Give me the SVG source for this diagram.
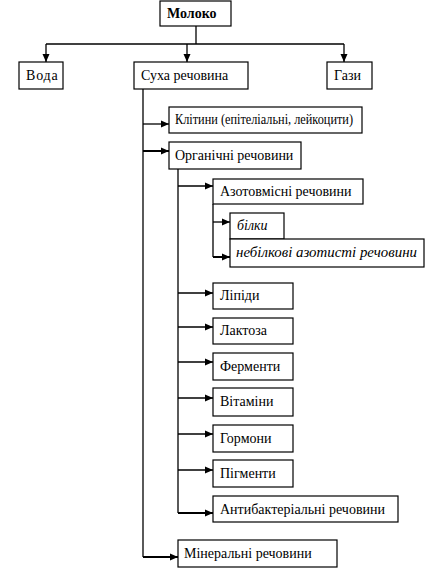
<svg xmlns="http://www.w3.org/2000/svg" width="447" height="568" viewBox="0 0 447 568">
<style>
rect{fill:#fff;stroke:#000;stroke-width:1.2}
text{font-family:'Times New Roman','Liberation Serif','DejaVu Serif',serif;font-size:14px;fill:#000}
.b{font-weight:bold}
.i{font-style:italic}
.c path{fill:none;stroke:#000;stroke-width:1.3}
.c .t{stroke-width:2}
</style>
<defs>
<marker id="a" viewBox="0 0 8 8" refX="8" refY="4" markerWidth="8" markerHeight="8" markerUnits="userSpaceOnUse" orient="auto">
<path d="M0,0.5 L8,4 L0,7.5 Z" fill="#000"/>
</marker>
</defs>
<g class="c" id="connectors">
<path d="M196,26 V44"/>
<path d="M46,44 H344"/>
<path d="M46,44 V62" marker-end="url(#a)"/>
<path d="M187,44 V62" marker-end="url(#a)"/>
<path d="M344,44 V62" marker-end="url(#a)"/>
<path d="M143,89 V557"/>
<path d="M143,124 H169" marker-end="url(#a)"/>
<path class="t" d="M143,151 H169" marker-end="url(#a)"/>
<path class="t" d="M143,557 H178" marker-end="url(#a)"/>
<path d="M178,169 V513"/>
<path d="M178,186 H213" marker-end="url(#a)"/>
<path d="M178,293 H213" marker-end="url(#a)"/>
<path d="M178,327 H213" marker-end="url(#a)"/>
<path d="M178,362 H213" marker-end="url(#a)"/>
<path d="M178,398 H213" marker-end="url(#a)"/>
<path d="M178,434 H213" marker-end="url(#a)"/>
<path d="M178,470 H213" marker-end="url(#a)"/>
<path class="t" d="M178,513 H213" marker-end="url(#a)"/>
<path d="M213,204 V257"/>
<path d="M213,222 H230" marker-end="url(#a)"/>
<path class="t" d="M213,257 H230" marker-end="url(#a)"/>
</g>
<g id="moloko"><rect x="160" y="1" width="71" height="25"/><text x="167" y="18" class="b">Молоко</text></g>
<g id="voda"><rect x="19" y="62" width="44" height="27"/><text x="26" y="80" letter-spacing="0.8">Вода</text></g>
<g id="sukha"><rect x="134" y="62" width="114" height="27"/><text x="141" y="80">Суха речовина</text></g>
<g id="hazy"><rect x="327" y="62" width="45" height="27"/><text x="334" y="80">Гази</text></g>
<g id="klityny"><rect x="169" y="107" width="193" height="26"/><text x="175" y="124" textLength="178" lengthAdjust="spacingAndGlyphs">Клітини (епітеліальні, лейкоцити)</text></g>
<g id="orhanichni"><rect x="169" y="142" width="132" height="27"/><text x="175" y="160">Органічні речовини</text></g>
<g id="azot"><rect x="213" y="179" width="150" height="25"/><text x="220" y="196">Азотовмісні речовини</text></g>
<g id="bilky"><rect x="230" y="213" width="54" height="26"/><text x="237" y="230" class="i">білки</text></g>
<g id="nebilkovi"><rect x="230" y="239" width="194" height="28"/><text x="236" y="257" class="i" textLength="181" lengthAdjust="spacingAndGlyphs">небілкові азотисті речовини</text></g>
<g id="lipidy"><rect x="213" y="283" width="80" height="26"/><text x="220" y="300">Ліпіди</text></g>
<g id="laktoza"><rect x="213" y="318" width="80" height="26"/><text x="220" y="335">Лактоза</text></g>
<g id="fermenty"><rect x="213" y="353" width="80" height="27"/><text x="220" y="371">Ферменти</text></g>
<g id="vitaminy"><rect x="213" y="388" width="80" height="28"/><text x="220" y="406">Вітаміни</text></g>
<g id="hormony"><rect x="213" y="425" width="80" height="27"/><text x="220" y="443">Гормони</text></g>
<g id="pihmenty"><rect x="213" y="460" width="80" height="27"/><text x="220" y="478">Пігменти</text></g>
<g id="antybakt"><rect x="213" y="496" width="185" height="26"/><text x="220" y="514">Антибактеріальні речовини</text></g>
<g id="mineralni"><rect x="178" y="540" width="159" height="27"/><text x="184" y="558">Мінеральні речовини</text></g>
</svg>
